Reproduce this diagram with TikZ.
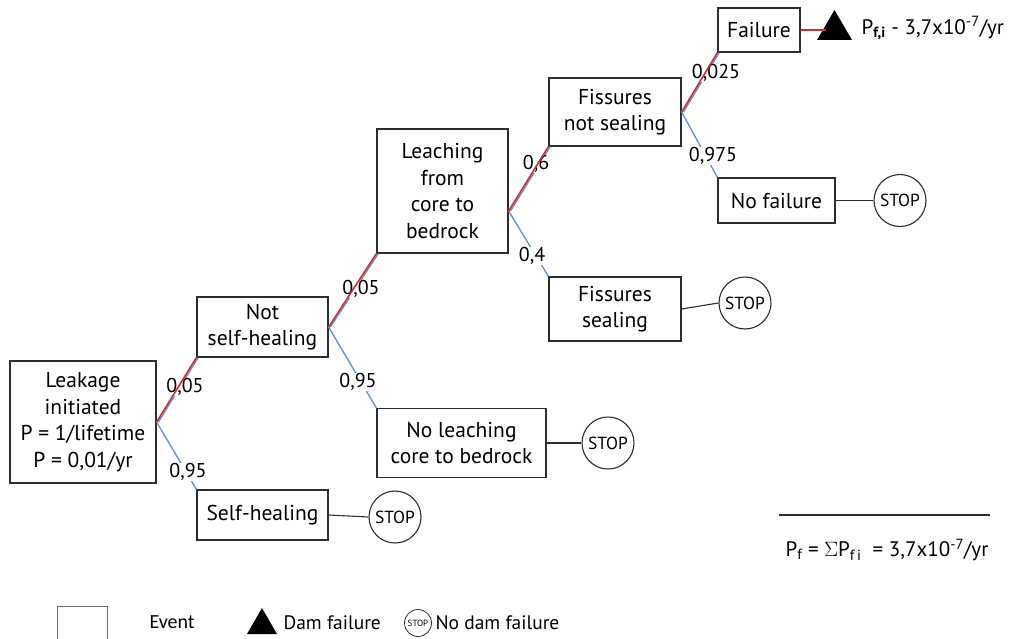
\documentclass[tikz,border=0pt]{standalone}
\usepackage{fontspec}
\setmainfont{PT Sans}
\newfontfamily\legendfont{Carlito}
\usetikzlibrary{calc}
\definecolor{pathred}{RGB}{196,52,48}
\definecolor{pathblue}{RGB}{96,142,212}
\definecolor{boxline}{RGB}{45,45,45}
\tikzset{
  event/.style={draw=boxline, line width=1.3pt, align=center, inner sep=0pt,
    font=\fontsize{21.5}{26.5}\selectfont},
  stopsign/.style={draw=boxline, line width=1.1pt, circle, minimum size=52pt, inner sep=0pt,
    font=\fontsize{17.5}{17.5}\selectfont},
  prob/.style={fill=white, inner sep=0.5pt, font=\fontsize{20}{20}\selectfont},
  blueline/.style={pathblue, line width=1.3pt},
  redline/.style={pathred, line width=1.6pt},
  stem/.style={boxline, line width=1.1pt},
}
\begin{document}
\begin{tikzpicture}[x=1pt,y=-1pt]
\useasboundingbox (0,0) rectangle (1016,639);

% event boxes
\node[event, minimum width=146pt, minimum height=122pt] (lk) at (83,422)
  {Leakage\\initiated\\P = 1/lifetime\\P = 0,01/yr};
\node[event, minimum width=131pt, minimum height=60pt] (ns) at (262.5,327) {Not\\self-healing};
\node[event, minimum width=131pt, minimum height=50pt] (sh) at (262.5,515) {Self-healing};
\node[event, minimum width=131pt, minimum height=124pt] (lc) at (442.5,191)
  {Leaching\\from\\core to\\bedrock};
\node[event, minimum width=169pt, minimum height=69pt] (nl) at (461.5,443)
  {No leaching\\core to bedrock};
\node[event, minimum width=132pt, minimum height=68pt] (fn) at (615,112) {Fissures\\not sealing};
\node[event, minimum width=132pt, minimum height=64pt] (fs) at (615,309) {Fissures\\sealing};
\node[event, minimum width=82pt, minimum height=44pt] (fl) at (759,30) {Failure};
\node[event, minimum width=117pt, minimum height=45pt] (nf) at (776.5,200.5) {No failure};

% end states
\node[stopsign] (s1) at (395,517) {STOP};
\node[stopsign] (s2) at (608,443) {STOP};
\node[stopsign] (s3) at (745,303) {STOP};
\node[stopsign] (s4) at (900,200.5) {STOP};
\fill[black] (817,40) -- (834.5,10) -- (852,40) -- cycle;
\coordinate (trileft) at (826,30);
\node[anchor=west, font=\fontsize{21}{21}\selectfont] (pfi) at (858,28)
  {P\textsubscript{\textbf{f,i}} - 3,7x10\textsuperscript{-7}/yr};

\draw[stem] (sh.east) -- (s1.west);
\draw[stem] (nl.east) -- (s2.west);
\draw[stem] (fs.east) -- (s3.west);
\draw[stem] (nf.east) -- (s4.west);
\draw[redline] (fl.east) -- (trileft);

% branch points on the right side of each event
\coordinate (b1) at (lk.east);
\coordinate (b2) at (ns.east);
\coordinate (b3) at ($(lc.east)+(0,20)$);
\coordinate (b4) at (fn.east);

% all branches
\draw[blueline] ($(b1)+(1.8,0)$) -- ($(ns.south west)+(1.8,0)$);
\draw[blueline] (b1) -- (sh.north west);
\draw[blueline] ($(b2)+(1.8,0)$) -- ($(lc.south west)+(1.8,0)$);
\draw[blueline] (b2) -- (nl.north west);
\draw[blueline] ($(b3)+(1.8,0)$) -- ($(fn.south west)+(1.8,0)$);
\draw[blueline] (b3) -- (fs.north west);
\draw[blueline] ($(b4)+(1.8,0)$) -- ($(fl.south west)+(1.8,0)$);
\draw[blueline] (b4) -- (nf.north west);

% branch probabilities
\node[prob] (p1) at (185,387) {0,05};
\node[prob] (p2) at (188,472) {0,95};
\node[prob] (p3) at (361,289) {0,05};
\node[prob] (p4) at (358,382) {0,95};
\node[prob] (p5) at (536,164) {0,6};
\node[prob] (p6) at (532,256) {0,4};
\node[prob] (p7) at (716,73) {0,025};
\node[prob] (p8) at (713,156) {0,975};

% failure path drawn over the labels
\draw[redline] (b1) -- (ns.south west);
\draw[redline] (b2) -- (lc.south west);
\draw[redline] (b3) -- (fn.south west);
\draw[redline] (b4) -- (fl.south west);

% total failure probability
\coordinate (sumL) at (779,515);
\coordinate (sumR) at (990,515);
\draw[boxline, line width=1.5pt] (sumL) -- (sumR);
\node[font=\fontsize{21}{21}\selectfont] (pf) at (887,550)
  {P\textsubscript{f} = $\Sigma$P\textsubscript{f\,i} \ = 3,7x10\textsuperscript{-7}/yr};

% legend
\node[draw=boxline!70, line width=1pt, minimum width=50pt, minimum height=34pt, inner sep=0pt] (lgbox) at (82,623) {};
\node[anchor=west, font=\legendfont\fontsize{20}{20}\selectfont] (lgev) at (146,622) {Event};
\fill[black] (247,634) -- (262,608) -- (277,634) -- cycle;
\node[anchor=west, font=\fontsize{19.5}{19.5}\selectfont] (lgdf) at (280,623) {Dam failure};
\node[draw=boxline, line width=0.8pt, circle, minimum size=27pt, inner sep=0pt,
  font=\fontsize{9}{9}\selectfont] (lgstop) at (418,623) {STOP};
\node[anchor=west, font=\fontsize{19.5}{19.5}\selectfont] (lgnd) at (432,623) {No dam failure};
\end{tikzpicture}
\end{document}
